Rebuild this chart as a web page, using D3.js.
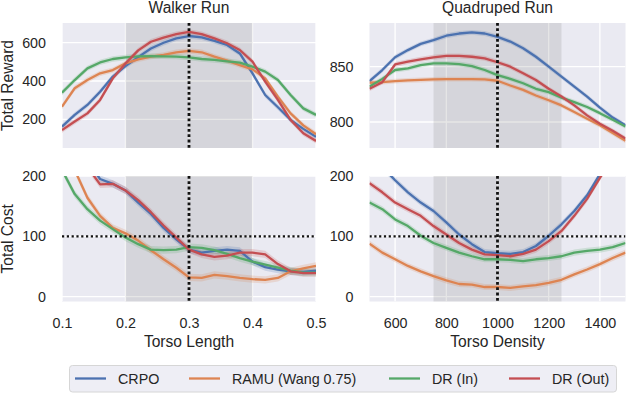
<!DOCTYPE html>
<html><head><meta charset="utf-8">
<script src="https://cdn.jsdelivr.net/npm/d3@7"></script>
<style>
body{margin:0;background:#fff;}
svg text{font-family:"Liberation Sans",Arial,Helvetica,sans-serif;fill:#262626;}
</style>
</head><body>
<svg id="c" width="626" height="394"></svg>
<script>
// ---------- data ----------
const seriesNames = ["CRPO", "RAMU (Wang 0.75)", "DR (In)", "DR (Out)"];
const seriesColors = ["#4C72B0", "#DD8452", "#55A868", "#C44E52"];

const torsoLength = [0.10,0.12,0.14,0.16,0.18,0.20,0.22,0.24,0.26,0.28,0.30,0.32,0.34,0.36,0.38,0.40,0.42,0.44,0.46,0.48,0.50];
const torsoDensity = [500,550,600,650,700,750,800,850,900,950,1000,1050,1100,1150,1200,1250,1300,1350,1400,1450,1500];

const walkerRewardCRPO  = [162,223,275,344,423,478,525,570,600,623,635,628,610,588,544,440,327,263,197,150,108];
const walkerRewardRAMU  = [266,362,405,440,457,492,513,527,536,550,557,550,527,506,483,461,414,318,231,168,122];
const walkerRewardDRIn  = [339,405,466,497,515,523,529,530,529,527,523,515,510,503,496,475,449,405,327,257,223];
const walkerRewardDROut = [144,188,231,301,414,492,560,605,627,645,657,645,623,597,562,501,397,301,197,127,87];

const quadRewardCRPO  = [837,847,858.5,865,870.6,874,878,880,881,880,877,872.7,866.7,859,850,841,832,823,813,804,797];
const quadRewardRAMU  = [835.5,836,837,837.6,838,838.5,838.8,838.8,838.8,838.5,837.3,833,829,824,819.7,815,809,803,797,790,783];
const quadRewardDRIn  = [832,839,847,848.5,851.5,853,853,852.4,850.6,847,842.4,839,835,830,827,822,818,813.6,808,802,796];
const quadRewardDROut = [830,836,852,854.5,856.7,858.5,859.7,859.7,859,857.6,854,850,844,838,830,823,815,806,798.5,792,785];

const walkerCostCRPO  = [290,260,225,195,187,176,156,137,114,95,78,73,76,78,76,58,49,45,42,41,43];
const walkerCostRAMU  = [250,210,164,134,114,105,93,77,62,48,32,31,36,34,31,29,28,31,42,47,51];
const walkerCostDRIn  = [210,170,145,126,112,98,87,78,77,78,82,81,77,71,64,58,53,48,43,40,40];
const walkerCostDROut = [270,240,215,186,187,176,160,140,118,98,78,70,66,68,73,73,70,54,42,39,39];

const quadCostCRPO  = [240,215,193,173,156,142,123,103,87,74,72,71,74,84,101,120,142,168,203,235,265];
const quadCostRAMU  = [88,73,62,51,42,34,27,21,20,16,16,14.5,17,19,23,28,37,45,54,64,73];
const quadCostDRIn  = [156,145,128,117,101,89,81,73,67,62,62,61,59,62,64,67,73,76,78,82,89];
const quadCostDROut = [188,173,156,145,134,117,103,89,78,70,69,67,71,78,92,109,134,162,197,230,262];

const lengthTicks = [0.1,0.2,0.3,0.4,0.5];
const densityTicks = [600,800,1000,1200,1400];
const walkerRewardTicks = [200,400,600];
const quadRewardTicks = [800,850];
const costTicks = [0,100,200];
const costThreshold = 100;

// ---------- layout ----------
const svg = d3.select("#c");
const L = {x0:62, x1:316}, R = {x0:369.5, x1:625.5};
const T = {y0:23, y1:148}, B = {y0:176, y1:301.5};

const panels = [
  {id:"tl", xs:torsoLength, ser:[walkerRewardCRPO,walkerRewardRAMU,walkerRewardDRIn,walkerRewardDROut],
   xDom:[0.1,0.5], yDom:[50,703], xT:lengthTicks, yT:walkerRewardTicks, h:L, v:T, shade:[0.2,0.4], nominal:0.3,
   title:"Walker Run", ylab:"Total Reward", band:14, showX:false},
  {id:"tr", xs:torsoDensity, ser:[quadRewardCRPO,quadRewardRAMU,quadRewardDRIn,quadRewardDROut],
   xDom:[500,1500], yDom:[776.5,889.5], xT:densityTicks, yT:quadRewardTicks, h:R, v:T, shade:[750,1250], nominal:1000,
   title:"Quadruped Run", ylab:null, band:2.2, showX:false},
  {id:"bl", xs:torsoLength, ser:[walkerCostCRPO,walkerCostRAMU,walkerCostDRIn,walkerCostDROut],
   xDom:[0.1,0.5], yDom:[-8,200], xT:lengthTicks, yT:costTicks, h:L, v:B, shade:[0.2,0.4], nominal:0.3,
   ylab:"Total Cost", xlab:"Torso Length", band:6, showX:true, thr:costThreshold},
  {id:"br", xs:torsoDensity, ser:[quadCostCRPO,quadCostRAMU,quadCostDRIn,quadCostDROut],
   xDom:[500,1500], yDom:[-8,200], xT:densityTicks, yT:costTicks, h:R, v:B, shade:[750,1250], nominal:1000,
   ylab:null, xlab:"Torso Density", band:5, showX:true, thr:costThreshold}
];

const fmtLen = d3.format(".1f");

panels.forEach(p => {
  const x = d3.scaleLinear().domain(p.xDom).range([p.h.x0, p.h.x1]);
  const y = d3.scaleLinear().domain(p.yDom).range([p.v.y1, p.v.y0]);
  const g = svg.append("g");
  const W = p.h.x1 - p.h.x0, H = p.v.y1 - p.v.y0;

  g.append("clipPath").attr("id","clip-"+p.id).append("rect")
    .attr("x",p.h.x0).attr("y",p.v.y0).attr("width",W).attr("height",H);

  g.append("rect").attr("x",p.h.x0).attr("y",p.v.y0).attr("width",W).attr("height",H).attr("fill","#EAEAF2");

  const grid = g.append("g").attr("clip-path","url(#clip-"+p.id+")");
  grid.selectAll("line.gx").data(p.xT).join("line")
    .attr("x1",d=>x(d)).attr("x2",d=>x(d)).attr("y1",p.v.y0).attr("y2",p.v.y1)
    .attr("stroke","#fff").attr("stroke-width",1.3);
  grid.selectAll("line.gy").data(p.yT).join("line").attr("class","gy")
    .attr("y1",d=>y(d)).attr("y2",d=>y(d)).attr("x1",p.h.x0).attr("x2",p.h.x1)
    .attr("stroke","#fff").attr("stroke-width",1.3);

  g.append("rect").attr("x",x(p.shade[0])).attr("y",p.v.y0)
    .attr("width",x(p.shade[1])-x(p.shade[0])).attr("height",H)
    .attr("fill","#808080").attr("opacity",0.2);

  const plot = g.append("g").attr("clip-path","url(#clip-"+p.id+")");
  p.ser.forEach((vals,i) => {
    const pts = vals.map((v,j)=>[p.xs[j], v]);
    plot.append("path").datum(pts)
      .attr("d", d3.area().x(d=>x(d[0])).y0(d=>y(d[1]-p.band)).y1(d=>y(d[1]+p.band)))
      .attr("fill", seriesColors[i]).attr("opacity",0.2);
  });
  p.ser.forEach((vals,i) => {
    const pts = vals.map((v,j)=>[p.xs[j], v]);
    plot.append("path").datum(pts)
      .attr("d", d3.line().x(d=>x(d[0])).y(d=>y(d[1])))
      .attr("fill","none").attr("stroke", seriesColors[i]).attr("stroke-width",2.3)
      .attr("stroke-linejoin","round");
  });

  if (p.thr !== undefined) {
    plot.append("line").attr("x1",p.h.x0).attr("x2",p.h.x1).attr("y1",y(p.thr)).attr("y2",y(p.thr))
      .attr("stroke","#111").attr("stroke-width",2.2).attr("stroke-dasharray","2.2,2.6");
  }
  plot.append("line").attr("x1",x(p.nominal)).attr("x2",x(p.nominal)).attr("y1",p.v.y0).attr("y2",p.v.y1)
    .attr("stroke","#111").attr("stroke-width",2.8).attr("stroke-dasharray","2.8,2.5");

  // axes
  const ay = g.append("g").attr("transform",`translate(${p.h.x0},0)`)
    .call(d3.axisLeft(y).tickValues(p.yT).tickSize(0).tickPadding(16).tickFormat(d3.format("d")));
  ay.select(".domain").remove();
  ay.selectAll("text").attr("font-size","14.3px").attr("font-family",null).attr("fill","#262626");
  ay.attr("font-family",null).attr("font-size",null);

  if (p.showX) {
    const ax = g.append("g").attr("transform",`translate(0,${p.v.y1})`)
      .call(d3.axisBottom(x).tickValues(p.xT).tickSize(0).tickPadding(16)
        .tickFormat(p.xs === torsoLength ? fmtLen : d3.format("d")));
    ax.select(".domain").remove();
    ax.selectAll("text").attr("font-size","14.3px").attr("fill","#262626");
    ax.attr("font-family",null).attr("font-size",null);
  }

  const cx = (p.h.x0 + p.h.x1)/2;
  if (p.title) g.append("text").attr("x",cx).attr("y",12.5).attr("text-anchor","middle")
    .attr("font-size","15.6px").text(p.title);
  if (p.xlab) g.append("text").attr("x",cx).attr("y",347.3).attr("text-anchor","middle")
    .attr("font-size","15.6px").text(p.xlab);
  if (p.ylab) g.append("text").attr("transform",`translate(13.3,${(p.v.y0+p.v.y1)/2}) rotate(-90)`)
    .attr("text-anchor","middle").attr("font-size","15.6px").text(p.ylab);
});

// ---------- legend ----------
const leg = svg.append("g");
leg.append("rect").attr("x",69.5).attr("y",365.5).attr("width",547).attr("height",26.5).attr("rx",3)
  .attr("fill","#EEEEF5").attr("stroke","#D6D6D6").attr("stroke-width",1);
const legX = [75, 189, 389, 509];
seriesNames.forEach((name,i) => {
  leg.append("line").attr("x1",legX[i]).attr("x2",legX[i]+31).attr("y1",378.5).attr("y2",378.5)
    .attr("stroke",seriesColors[i]).attr("stroke-width",2.3);
  leg.append("text").attr("x",legX[i]+43).attr("y",383.7).attr("font-size","14.3px").text(name);
});
</script>
</body></html>
